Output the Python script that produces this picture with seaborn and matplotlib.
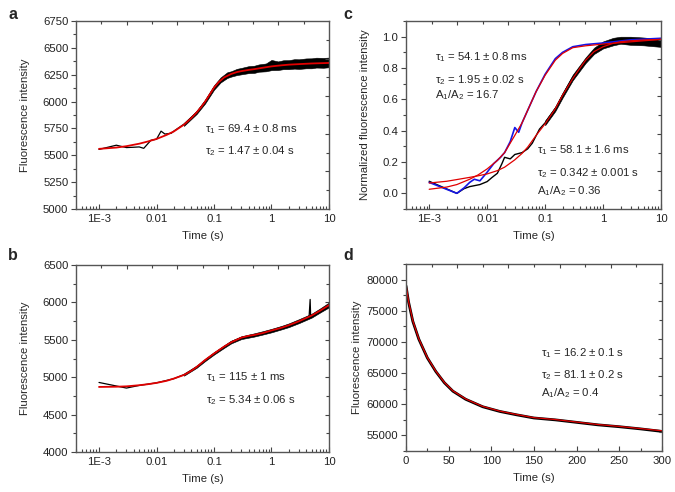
import numpy as np
import matplotlib
matplotlib.use("Agg")
import matplotlib.pyplot as plt
import seaborn as sns
from matplotlib.ticker import FixedLocator, MultipleLocator, LogLocator, NullFormatter, FormatStrFormatter

# --- panel a: fluorescence vs time (log) ---
a_t = [0.001, 0.002, 0.003, 0.004, 0.005, 0.006, 0.008, 0.01, 0.012, 0.014, 0.018, 0.02,
       0.03, 0.05, 0.07, 0.1, 0.15, 0.2, 0.3, 0.5, 1, 2, 5, 10]
a_data = [5555, 5594, 5572, 5575, 5578, 5565, 5640, 5650, 5725, 5698, 5705, 5725,
          5790, 5900, 6000, 6130, 6215, 6265, 6285, 6300, 6330, 6345, 6355, 6360]
a_fit_t = [0.001, 0.002, 0.003, 0.005, 0.007, 0.01, 0.015, 0.02, 0.03, 0.04, 0.05, 0.06,
           0.07, 0.085, 0.1, 0.12, 0.15, 0.2, 0.25, 0.3, 0.4, 0.5, 0.7, 1, 1.5, 2, 3, 5, 10]
a_fit = [5560, 5572, 5585, 5608, 5628, 5652, 5690, 5722, 5785, 5845, 5900, 5950,
         6000, 6070, 6130, 6180, 6225, 6258, 6275, 6284, 6295, 6302, 6315, 6328, 6338, 6344, 6349, 6355, 6360]
a_band_t = [0.03, 0.05, 0.07, 0.1, 0.13, 0.17, 0.2, 0.25, 0.3, 0.4, 0.5, 0.6, 0.8, 1,
            1.3, 1.6, 2, 2.5, 3, 4, 5, 6, 8, 10]
a_band_lo = [5773, 5885, 5982, 6110, 6178, 6220, 6233, 6247, 6254, 6265, 6267, 6278, 6282, 6293,
             6294, 6302, 6302, 6307, 6304, 6310, 6310, 6317, 6315, 6320]
a_band_hi = [5797, 5915, 6018, 6152, 6225, 6273, 6283, 6305, 6314, 6330, 6334, 6346, 6355, 6388,
             6374, 6385, 6386, 6395, 6394, 6402, 6403, 6409, 6407, 6410]

# --- panel b ---
b_t = [0.001, 0.003, 0.005, 0.01, 0.02, 0.03, 0.05, 0.1, 0.2, 0.3, 0.5, 1, 2,
       4.5, 4.7, 4.8, 5, 10]
b_data = [4930, 4855, 4890, 4925, 4980, 5035, 5140, 5315, 5475, 5530, 5560, 5625, 5695,
          5800, 6040, 5810, 5820, 5970]
b_fit_t = [0.001, 0.002, 0.003, 0.005, 0.007, 0.01, 0.015, 0.02, 0.03, 0.04, 0.05, 0.07, 0.1,
           0.15, 0.2, 0.3, 0.4, 0.5, 0.7, 1, 1.5, 2, 3, 5, 7, 10]
b_fit = [4870, 4873, 4878, 4893, 4906, 4924, 4952, 4982, 5030, 5085, 5138, 5230, 5317,
         5410, 5468, 5530, 5553, 5565, 5590, 5625, 5662, 5695, 5748, 5825, 5890, 5964]
b_band_t = [0.03, 0.05, 0.07, 0.1, 0.15, 0.2, 0.3, 0.5, 0.7, 1, 1.5, 2, 3, 5, 7, 10]
b_band_lo = [5020, 5126, 5215, 5302, 5392, 5453, 5510, 5543, 5570, 5600, 5640, 5670, 5723, 5797, 5865, 5934]
b_band_hi = [5040, 5153, 5245, 5335, 5425, 5488, 5548, 5587, 5615, 5647, 5687, 5720, 5776, 5850, 5920, 5999]

# --- panel c: normalized, fast (blue) and slow (black) ---
c_fast_t = [0.001, 0.003, 0.004, 0.005, 0.006, 0.0075, 0.01, 0.013, 0.017, 0.02, 0.025, 0.03,
            0.035, 0.04, 0.05, 0.07, 0.1, 0.15, 0.2, 0.3, 0.5, 1, 3, 10]
c_fast = [0.07, 0.0, 0.035, 0.07, 0.09, 0.08, 0.135, 0.19, 0.23, 0.26, 0.33, 0.42,
          0.39, 0.45, 0.53, 0.65, 0.76, 0.86, 0.90, 0.936, 0.95, 0.96, 0.98, 0.99]
c_fast_fit_t = [0.001, 0.002, 0.003, 0.005, 0.007, 0.01, 0.015, 0.02, 0.03, 0.04, 0.05, 0.07,
                0.1, 0.15, 0.2, 0.3, 0.5, 1, 2, 5, 10]
c_fast_fit = [0.026, 0.04, 0.056, 0.09, 0.118, 0.156, 0.21, 0.26, 0.37, 0.45, 0.53, 0.65,
              0.754, 0.85, 0.893, 0.93, 0.942, 0.953, 0.962, 0.974, 0.983]
c_slow_t = [0.001, 0.003, 0.004, 0.005, 0.0075, 0.01, 0.012, 0.015, 0.018, 0.02, 0.025, 0.03,
            0.04, 0.05, 0.06, 0.08, 0.1, 0.15, 0.2, 0.3, 0.5, 0.7, 1, 1.5, 2, 5, 10]
c_slow = [0.077, 0.0, 0.03, 0.043, 0.056, 0.075, 0.10, 0.128, 0.19, 0.23, 0.22, 0.248,
          0.26, 0.284, 0.32, 0.41, 0.45, 0.54, 0.626, 0.74, 0.85, 0.91, 0.947, 0.97, 0.98, 0.97, 0.96]
c_slow_fit_t = [0.001, 0.002, 0.003, 0.005, 0.007, 0.01, 0.015, 0.02, 0.03, 0.04, 0.05, 0.07,
                0.1, 0.15, 0.2, 0.3, 0.4, 0.5, 0.7, 1, 1.5, 2, 3, 5, 10]
c_slow_fit = [0.066, 0.077, 0.088, 0.102, 0.112, 0.124, 0.145, 0.167, 0.214, 0.255, 0.295, 0.37,
              0.444, 0.54, 0.626, 0.733, 0.80, 0.85, 0.905, 0.936, 0.958, 0.968, 0.974, 0.979, 0.983]
c_band_t = [0.1, 0.15, 0.2, 0.3, 0.5, 0.7, 1, 1.5, 2, 3, 5, 7, 10]
c_band_lo = [0.435, 0.525, 0.61, 0.722, 0.832, 0.89, 0.925, 0.945, 0.955, 0.948, 0.945, 0.94, 0.935]
c_band_hi = [0.465, 0.555, 0.642, 0.758, 0.868, 0.93, 0.97, 0.993, 1.0, 1.0, 0.995, 0.99, 0.985]

# --- panel d: linear time decay ---
d_t = [0, 3, 8, 15, 25, 35, 45, 55, 70, 90, 110, 130, 150, 175, 200, 225, 250, 275, 300]
d_data = [79000, 76400, 73300, 70450, 67450, 65250, 63450, 62100, 60800, 59600, 58850,
          58300, 57800, 57500, 57100, 56700, 56400, 56050, 55650]
d_fit = [79200, 76500, 73400, 70500, 67500, 65300, 63500, 62150, 60850, 59650, 58900,
         58350, 57850, 57550, 57150, 56750, 56450, 56100, 55750]

sns.set_theme(style="ticks")
plt.rcParams["font.family"] = ["Liberation Sans", "DejaVu Sans"]
plt.rcParams["mathtext.default"] = "regular"
plt.rcParams["axes.edgecolor"] = "#555555"
plt.rcParams["axes.linewidth"] = 1.0

fig = plt.figure(figsize=(6.75, 4.92), dpi=100)
ax_a = fig.add_axes([0.1126, 0.5752, 0.3748, 0.382])
ax_c = fig.add_axes([0.6015, 0.5752, 0.3778, 0.382])
ax_b = fig.add_axes([0.1126, 0.0813, 0.3748, 0.380])
ax_d = fig.add_axes([0.6015, 0.0833, 0.3790, 0.380])

FS = 8.2
RED = "#e00000"
TICK = "#444444"


def style_axes(ax, log=True):
    ax.tick_params(which="both", top=False, right=False, labelsize=FS,
                   color=TICK, labelcolor="#222222", width=0.8)
    # Origin style: ticks point inward on x, outward on y
    ax.tick_params(axis="x", which="both", direction="in", pad=3.5)
    ax.tick_params(axis="y", which="both", direction="out", pad=2)
    ax.tick_params(which="major", length=3.5)
    ax.tick_params(which="minor", length=2)
    if log:
        ax.set_xscale("log")
        ax.set_xlim(10 ** -3.4, 10)
        ax.xaxis.set_major_locator(FixedLocator([1e-3, 1e-2, 1e-1, 1, 10]))
        ax.set_xticklabels(["1E-3", "0.01", "0.1", "1", "10"])
        ax.xaxis.set_minor_locator(LogLocator(base=10, subs=np.arange(2, 10), numticks=20))
        ax.xaxis.set_minor_formatter(NullFormatter())
    ax.set_xlabel("Time (s)", fontsize=FS, labelpad=5)
    # inward ticks on the top and right frame
    ov = fig.add_axes(ax.get_position(), frameon=False)
    ov.set_xlim(0, 1)
    ov.set_ylim(0, 1)
    ov.xaxis.tick_top()
    ov.yaxis.tick_right()
    ov.xaxis.set_major_locator(FixedLocator([0.2, 0.4, 0.6, 0.8]))
    ov.xaxis.set_minor_locator(FixedLocator([0.1, 0.3, 0.5, 0.7, 0.9]))
    ov.yaxis.set_major_locator(FixedLocator([0.2, 0.4, 0.6, 0.8]))
    ov.yaxis.set_minor_locator(FixedLocator([0.1, 0.3, 0.5, 0.7, 0.9]))
    ov.tick_params(which="both", direction="in", labeltop=False, labelright=False,
                   labelbottom=False, labelleft=False, color=TICK, width=0.8)
    ov.tick_params(which="major", length=3)
    ov.tick_params(which="minor", length=2)
    ov.patch.set_visible(False)


# panel a
ax_a.fill_between(a_band_t, a_band_lo, a_band_hi, color="black", lw=0.4)
sns.lineplot(x=a_t, y=a_data, ax=ax_a, color="black", lw=0.9, estimator=None)
sns.lineplot(x=a_fit_t, y=a_fit, ax=ax_a, color=RED, lw=1.3, estimator=None)
style_axes(ax_a)
ax_a.set_ylim(5000, 6750)
ax_a.yaxis.set_major_locator(MultipleLocator(250))
ax_a.yaxis.set_minor_locator(MultipleLocator(125))
ax_a.set_ylabel("Fluorescence intensity", fontsize=FS, labelpad=9.5)
ax_a.text(0.51, 0.426, "τ$_1$ = 69.4 ± 0.8 ms", transform=ax_a.transAxes, fontsize=FS, va="center")
ax_a.text(0.51, 0.309, "τ$_2$ = 1.47 ± 0.04 s", transform=ax_a.transAxes, fontsize=FS, va="center")

# panel b
ax_b.fill_between(b_band_t, b_band_lo, b_band_hi, color="black", lw=0.4)
sns.lineplot(x=b_t, y=b_data, ax=ax_b, color="black", lw=0.9, estimator=None)
sns.lineplot(x=b_fit_t, y=b_fit, ax=ax_b, color=RED, lw=1.3, estimator=None)
style_axes(ax_b)
ax_b.set_ylim(4000, 6500)
ax_b.yaxis.set_major_locator(MultipleLocator(500))
ax_b.yaxis.set_minor_locator(MultipleLocator(250))
ax_b.set_ylabel("Fluorescence intensity", fontsize=FS, labelpad=9.5)
ax_b.text(0.512, 0.403, "τ$_1$ = 115 ± 1 ms", transform=ax_b.transAxes, fontsize=FS, va="center")
ax_b.text(0.512, 0.278, "τ$_2$ = 5.34 ± 0.06 s", transform=ax_b.transAxes, fontsize=FS, va="center")

# panel c
ax_c.fill_between(c_band_t, c_band_lo, c_band_hi, color="black", lw=0.4)
sns.lineplot(x=c_slow_t, y=c_slow, ax=ax_c, color="black", lw=1.0, estimator=None)
sns.lineplot(x=c_fast_t, y=c_fast, ax=ax_c, color="#1515e6", lw=1.2, estimator=None)
sns.lineplot(x=c_slow_fit_t, y=c_slow_fit, ax=ax_c, color=RED, lw=0.9, estimator=None)
sns.lineplot(x=c_fast_fit_t, y=c_fast_fit, ax=ax_c, color=RED, lw=0.9, estimator=None)
style_axes(ax_c)
ax_c.set_ylim(-0.1, 1.1)
ax_c.yaxis.set_major_locator(MultipleLocator(0.2))
ax_c.yaxis.set_minor_locator(MultipleLocator(0.1))
ax_c.yaxis.set_major_formatter(FormatStrFormatter("%.1f"))
ax_c.set_ylabel("Normalized fluorescence intensity", fontsize=FS, labelpad=9)
for yy, s in [(0.807, "τ$_1$ = 54.1 ± 0.8 ms"), (0.686, "τ$_2$ = 1.95 ± 0.02 s"),
              (0.607, "A$_1$/A$_2$ = 16.7")]:
    ax_c.text(0.114, yy, s, transform=ax_c.transAxes, fontsize=FS, va="center")
for yy, s in [(0.314, "τ$_1$ = 58.1 ± 1.6 ms"), (0.193, "τ$_2$ = 0.342 ± 0.001 s"),
              (0.097, "A$_1$/A$_2$ = 0.36")]:
    ax_c.text(0.515, yy, s, transform=ax_c.transAxes, fontsize=FS, va="center")

# panel d
sns.lineplot(x=d_t, y=d_data, ax=ax_d, color="black", lw=2.0, estimator=None)
sns.lineplot(x=d_t, y=d_fit, ax=ax_d, color=RED, lw=0.9, estimator=None)
style_axes(ax_d, log=False)
ax_d.set_xlim(0, 300)
ax_d.xaxis.set_major_locator(MultipleLocator(50))
ax_d.xaxis.set_minor_locator(MultipleLocator(25))
ax_d.set_ylim(52500, 82500)
ax_d.yaxis.set_major_locator(MultipleLocator(5000))
ax_d.yaxis.set_minor_locator(MultipleLocator(2500))
ax_d.set_ylabel("Fluorescence intensity", fontsize=FS, labelpad=3)
for yy, s in [(0.526, "τ$_1$ = 16.2 ± 0.1 s"), (0.406, "τ$_2$ = 81.1 ± 0.2 s"),
              (0.308, "A$_1$/A$_2$ = 0.4")]:
    ax_d.text(0.527, yy, s, transform=ax_d.transAxes, fontsize=FS, va="center")

# panel letters
for x, y, s in [(0.012, 0.985, "a"), (0.508, 0.985, "c"), (0.012, 0.495, "b"), (0.508, 0.495, "d")]:
    fig.text(x, y, s, fontsize=11.5, fontweight="bold", va="top", ha="left")

fig.savefig("out.png", dpi=100)
